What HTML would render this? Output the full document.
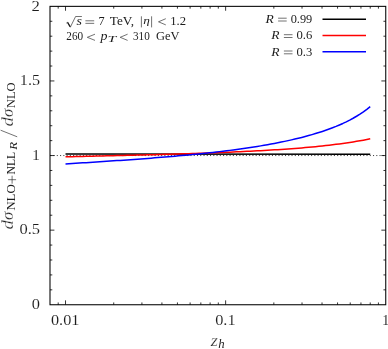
<!DOCTYPE html>
<html><head><meta charset="utf-8"><title>plot</title>
<style>
html,body{margin:0;padding:0;background:#fff;}
body{width:388px;height:349px;overflow:hidden;font-family:"Liberation Serif",serif;}
svg{display:block;will-change:transform;}
text{font-family:"Liberation Serif",serif;fill:#1c1c1c;stroke:#fff;}
.i{font-style:italic;}
</style></head><body>
<svg width="388" height="349" viewBox="0 0 388 349">
<rect x="0" y="0" width="388" height="349" fill="#fff"/>
<!-- y=1 dotted reference -->
<line x1="50.0" y1="155.55" x2="385.75" y2="155.55" stroke="#000" stroke-width="0.75" stroke-dasharray="1.1 2.16" stroke-dashoffset="-0.25"/>
<!-- curves -->
<path d="M65.52,154.1 L370.23,154.25" stroke="#000" stroke-width="1.5" fill="none"/>
<path d="M65.52,156.79 L68.94,156.71 L72.36,156.64 L75.79,156.56 L79.21,156.48 L82.64,156.41 L86.06,156.33 L89.48,156.25 L92.91,156.17 L96.33,156.09 L99.75,156.01 L103.18,155.93 L106.60,155.85 L110.03,155.77 L113.45,155.69 L116.87,155.61 L120.30,155.52 L123.72,155.44 L127.14,155.35 L130.57,155.27 L133.99,155.18 L137.42,155.09 L140.84,155.01 L144.26,154.92 L147.69,154.83 L151.11,154.73 L154.54,154.64 L157.96,154.55 L161.38,154.45 L164.81,154.35 L168.23,154.26 L171.65,154.16 L175.08,154.06 L178.50,153.95 L181.93,153.85 L185.35,153.74 L188.77,153.63 L192.20,153.52 L195.62,153.41 L199.04,153.29 L202.47,153.18 L205.89,153.06 L209.32,152.93 L212.74,152.81 L216.16,152.68 L219.59,152.55 L223.01,152.41 L226.43,152.28 L229.86,152.13 L233.28,151.99 L236.71,151.84 L240.13,151.69 L243.55,151.53 L246.98,151.37 L250.40,151.20 L253.82,151.03 L257.25,150.85 L260.67,150.66 L264.10,150.48 L267.52,150.28 L270.94,150.08 L274.37,149.87 L277.79,149.65 L281.21,149.43 L284.64,149.19 L288.06,148.95 L291.49,148.70 L294.91,148.44 L298.33,148.17 L301.76,147.89 L305.18,147.60 L308.61,147.30 L312.03,146.98 L315.45,146.65 L318.88,146.31 L322.30,145.95 L325.72,145.58 L329.15,145.19 L332.57,144.78 L336.00,144.35 L339.42,143.91 L342.84,143.44 L346.27,142.96 L349.69,142.45 L353.11,141.91 L356.54,141.35 L359.96,140.76 L363.39,140.14 L366.81,139.50 L370.23,138.82" stroke="#ff0000" stroke-width="1.5" fill="none" stroke-linejoin="round"/>
<path d="M65.52,163.89 L68.94,163.68 L72.36,163.47 L75.79,163.26 L79.21,163.05 L82.64,162.84 L86.06,162.63 L89.48,162.41 L92.91,162.19 L96.33,161.98 L99.75,161.75 L103.18,161.53 L106.60,161.31 L110.03,161.08 L113.45,160.85 L116.87,160.62 L120.30,160.38 L123.72,160.14 L127.14,159.90 L130.57,159.66 L133.99,159.41 L137.42,159.16 L140.84,158.91 L144.26,158.65 L147.69,158.39 L151.11,158.13 L154.54,157.86 L157.96,157.58 L161.38,157.31 L164.81,157.02 L168.23,156.74 L171.65,156.44 L175.08,156.14 L178.50,155.84 L181.93,155.53 L185.35,155.21 L188.77,154.89 L192.20,154.56 L195.62,154.22 L199.04,153.88 L202.47,153.53 L205.89,153.16 L209.32,152.79 L212.74,152.41 L216.16,152.03 L219.59,151.63 L223.01,151.22 L226.43,150.80 L229.86,150.37 L233.28,149.92 L236.71,149.47 L240.13,149.00 L243.55,148.51 L246.98,148.02 L250.40,147.50 L253.82,146.98 L257.25,146.43 L260.67,145.87 L264.10,145.29 L267.52,144.69 L270.94,144.07 L274.37,143.43 L277.79,142.77 L281.21,142.08 L284.64,141.37 L288.06,140.63 L291.49,139.87 L294.91,139.08 L298.33,138.25 L301.76,137.40 L305.18,136.51 L308.61,135.58 L312.03,134.61 L315.45,133.59 L318.88,132.54 L322.30,131.43 L325.72,130.26 L329.15,129.04 L332.57,127.75 L336.00,126.40 L339.42,124.96 L342.84,123.44 L346.27,121.82 L349.69,120.09 L353.11,118.24 L356.54,116.26 L359.96,114.12 L363.39,111.82 L366.81,109.32 L370.23,106.59" stroke="#0000ff" stroke-width="1.5" fill="none" stroke-linejoin="round"/>
<!-- ticks -->
<path d="M58.19,304.75 v-2.3 M58.19,6.35 v2.3 M65.52,304.75 v-4.4 M65.52,6.35 v4.4 M113.72,304.75 v-2.3 M113.72,6.35 v2.3 M141.91,304.75 v-2.3 M141.91,6.35 v2.3 M161.92,304.75 v-2.3 M161.92,6.35 v2.3 M177.43,304.75 v-2.3 M177.43,6.35 v2.3 M190.11,304.75 v-2.3 M190.11,6.35 v2.3 M200.83,304.75 v-2.3 M200.83,6.35 v2.3 M210.12,304.75 v-2.3 M210.12,6.35 v2.3 M218.31,304.75 v-2.3 M218.31,6.35 v2.3 M225.63,304.75 v-4.4 M225.63,6.35 v4.4 M273.83,304.75 v-2.3 M273.83,6.35 v2.3 M302.03,304.75 v-2.3 M302.03,6.35 v2.3 M322.03,304.75 v-2.3 M322.03,6.35 v2.3 M337.55,304.75 v-2.3 M337.55,6.35 v2.3 M350.23,304.75 v-2.3 M350.23,6.35 v2.3 M360.95,304.75 v-2.3 M360.95,6.35 v2.3 M370.23,304.75 v-2.3 M370.23,6.35 v2.3 M378.42,304.75 v-2.3 M378.42,6.35 v2.3 M50.0,289.83 h2.3 M385.75,289.83 h-2.3 M50.0,274.91 h2.3 M385.75,274.91 h-2.3 M50.0,259.99 h2.3 M385.75,259.99 h-2.3 M50.0,245.07 h2.3 M385.75,245.07 h-2.3 M50.0,230.15 h4.4 M385.75,230.15 h-4.4 M50.0,215.23 h2.3 M385.75,215.23 h-2.3 M50.0,200.31 h2.3 M385.75,200.31 h-2.3 M50.0,185.39 h2.3 M385.75,185.39 h-2.3 M50.0,170.47 h2.3 M385.75,170.47 h-2.3 M50.0,155.55 h4.4 M385.75,155.55 h-4.4 M50.0,140.63 h2.3 M385.75,140.63 h-2.3 M50.0,125.71 h2.3 M385.75,125.71 h-2.3 M50.0,110.79 h2.3 M385.75,110.79 h-2.3 M50.0,95.87 h2.3 M385.75,95.87 h-2.3 M50.0,80.95 h4.4 M385.75,80.95 h-4.4 M50.0,66.03 h2.3 M385.75,66.03 h-2.3 M50.0,51.11 h2.3 M385.75,51.11 h-2.3 M50.0,36.19 h2.3 M385.75,36.19 h-2.3 M50.0,21.27 h2.3 M385.75,21.27 h-2.3" stroke="#000" stroke-width="0.8" fill="none"/>
<!-- frame -->
<rect x="50.0" y="6.35" width="335.75" height="298.40" fill="none" stroke="#000" stroke-width="1.05"/>
<!-- legend samples -->
<line x1="322.5" y1="19.2" x2="366.0" y2="19.2" stroke="#000" stroke-width="1.5"/>
<line x1="322.5" y1="35.5" x2="366.0" y2="35.5" stroke="#ff0000" stroke-width="1.5"/>
<line x1="322.5" y1="51.7" x2="366.0" y2="51.7" stroke="#0000ff" stroke-width="1.5"/>
<!-- legend text -->
<text x="265.40" y="22.80" font-size="12.0" textLength="8.30" lengthAdjust="spacingAndGlyphs" class="i" stroke-width="0.0">R</text>
<path d="M278.10,18.20 H286.70 M278.10,21.00 H286.70" stroke="#1c1c1c" stroke-width="0.62" fill="none"/>
<text x="290.70" y="22.80" font-size="12.0" textLength="21.60" lengthAdjust="spacingAndGlyphs" stroke-width="0.0">0.99</text>
<text x="271.20" y="39.30" font-size="12.0" textLength="8.30" lengthAdjust="spacingAndGlyphs" class="i" stroke-width="0.0">R</text>
<path d="M283.90,34.70 H292.50 M283.90,37.50 H292.50" stroke="#1c1c1c" stroke-width="0.62" fill="none"/>
<text x="296.50" y="39.30" font-size="12.0" textLength="15.80" lengthAdjust="spacingAndGlyphs" stroke-width="0.0">0.6</text>
<text x="271.20" y="55.60" font-size="12.0" textLength="8.30" lengthAdjust="spacingAndGlyphs" class="i" stroke-width="0.0">R</text>
<path d="M283.90,51.00 H292.50 M283.90,53.80 H292.50" stroke="#1c1c1c" stroke-width="0.62" fill="none"/>
<text x="296.50" y="55.60" font-size="12.0" textLength="15.80" lengthAdjust="spacingAndGlyphs" stroke-width="0.0">0.3</text>
<!-- annotation -->
<path d="M66.3,23.1 L67.5,22.3 L70.3,27.2 L75.6,16.5 H81.9" stroke="#1c1c1c" stroke-width="0.62" fill="none"/><path d="M67.6,22.4 L70.1,26.6" stroke="#1c1c1c" stroke-width="1.15" fill="none"/>
<text x="76.60" y="24.60" font-size="12.0" textLength="5.40" lengthAdjust="spacingAndGlyphs" class="i" stroke-width="0.0">s</text>
<path d="M85.40,20.80 H94.20 M85.40,23.35 H94.20" stroke="#1c1c1c" stroke-width="0.62" fill="none"/>
<text x="98.50" y="24.60" font-size="12.0" textLength="6.10" lengthAdjust="spacingAndGlyphs" stroke-width="0.0">7</text>
<text x="109.80" y="24.60" font-size="12.0" textLength="24.20" lengthAdjust="spacingAndGlyphs" stroke-width="0.0">TeV,</text>
<path d="M141.4,16.30 V27.40 M151.6,16.30 V27.40" stroke="#1c1c1c" stroke-width="0.62"/>
<text x="143.20" y="24.40" font-size="11.0" textLength="6.60" lengthAdjust="spacingAndGlyphs" class="i" stroke-width="0.0">η</text>
<path d="M165.80,18.70 L158.50,21.80 L165.80,24.90" stroke="#1c1c1c" stroke-width="0.62" fill="none" stroke-linejoin="miter"/>
<text x="170.20" y="24.60" font-size="12.0" textLength="15.80" lengthAdjust="spacingAndGlyphs" stroke-width="0.0">1.2</text>
<text x="66.30" y="40.10" font-size="12.0" textLength="16.80" lengthAdjust="spacingAndGlyphs" stroke-width="0.0">260</text>
<path d="M95.00,34.20 L87.30,37.30 L95.00,40.40" stroke="#1c1c1c" stroke-width="0.62" fill="none" stroke-linejoin="miter"/>
<text x="100.40" y="40.10" font-size="12.0" textLength="7.00" lengthAdjust="spacingAndGlyphs" class="i" stroke-width="0.0">p</text>
<text x="107.40" y="41.90" font-size="8.8" textLength="8.80" lengthAdjust="spacingAndGlyphs" class="i" stroke-width="0.0">T</text>
<path d="M127.60,34.20 L120.20,37.30 L127.60,40.40" stroke="#1c1c1c" stroke-width="0.62" fill="none" stroke-linejoin="miter"/>
<text x="133.00" y="40.10" font-size="12.0" textLength="16.80" lengthAdjust="spacingAndGlyphs" stroke-width="0.0">310</text>
<text x="156.10" y="40.10" font-size="12.0" textLength="23.50" lengthAdjust="spacingAndGlyphs" stroke-width="0.0">GeV</text>
<!-- y tick labels -->
<text x="31.60" y="10.55" font-size="15.3" textLength="8.40" lengthAdjust="spacingAndGlyphs" stroke-width="0.08">2</text>
<text x="19.80" y="85.15" font-size="15.3" textLength="20.20" lengthAdjust="spacingAndGlyphs" stroke-width="0.08">1.5</text>
<text x="32.00" y="159.75" font-size="15.3" textLength="8.00" lengthAdjust="spacingAndGlyphs" stroke-width="0.08">1</text>
<text x="19.40" y="234.35" font-size="15.3" textLength="20.60" lengthAdjust="spacingAndGlyphs" stroke-width="0.08">0.5</text>
<text x="31.80" y="308.95" font-size="15.3" textLength="8.20" lengthAdjust="spacingAndGlyphs" stroke-width="0.08">0</text>
<!-- x tick labels -->
<text x="51.00" y="325.40" font-size="15.3" textLength="28.40" lengthAdjust="spacingAndGlyphs" stroke-width="0.08">0.01</text>
<text x="215.20" y="325.40" font-size="15.3" textLength="20.40" lengthAdjust="spacingAndGlyphs" stroke-width="0.08">0.1</text>
<text x="381.90" y="325.40" font-size="15.3" textLength="7.40" lengthAdjust="spacingAndGlyphs" stroke-width="0.08">1</text>
<!-- x label -->
<text x="210.80" y="345.50" font-size="16.8" textLength="7.20" lengthAdjust="spacingAndGlyphs" class="i" stroke-width="0.25">z</text>
<text x="218.20" y="348.20" font-size="12.0" textLength="6.40" lengthAdjust="spacingAndGlyphs" class="i" stroke-width="0.0">h</text>
<!-- y label -->
<g transform="translate(13.0,229.6) rotate(-90)">
<text x="0.00" y="0.00" font-size="16.8" textLength="9.40" lengthAdjust="spacingAndGlyphs" class="i" stroke-width="0.25">d</text>
<text x="9.60" y="0.00" font-size="16.8" textLength="8.30" lengthAdjust="spacingAndGlyphs" class="i" stroke-width="0.25">σ</text>
<text x="19.00" y="2.20" font-size="12.0" textLength="26.20" lengthAdjust="spacingAndGlyphs" stroke-width="0.0">NLO</text>
<path d="M45.9,-0.9 h8.0 M49.9,-4.9 v8.0" stroke="#1c1c1c" stroke-width="0.62" fill="none"/>
<text x="55.10" y="2.20" font-size="12.0" textLength="22.60" lengthAdjust="spacingAndGlyphs" stroke-width="0.0">NLL</text>
<text x="79.80" y="4.20" font-size="9.4" textLength="7.80" lengthAdjust="spacingAndGlyphs" class="i" stroke-width="0.0">R</text>
<path d="M92.8,4.2 L99.4,-12.4" stroke="#1c1c1c" stroke-width="0.62" fill="none"/>
<text x="103.00" y="0.00" font-size="16.8" textLength="9.40" lengthAdjust="spacingAndGlyphs" class="i" stroke-width="0.25">d</text>
<text x="112.60" y="0.00" font-size="16.8" textLength="8.30" lengthAdjust="spacingAndGlyphs" class="i" stroke-width="0.25">σ</text>
<text x="121.60" y="2.20" font-size="12.0" textLength="25.40" lengthAdjust="spacingAndGlyphs" stroke-width="0.0">NLO</text>
</g>
</svg>
</body></html>
